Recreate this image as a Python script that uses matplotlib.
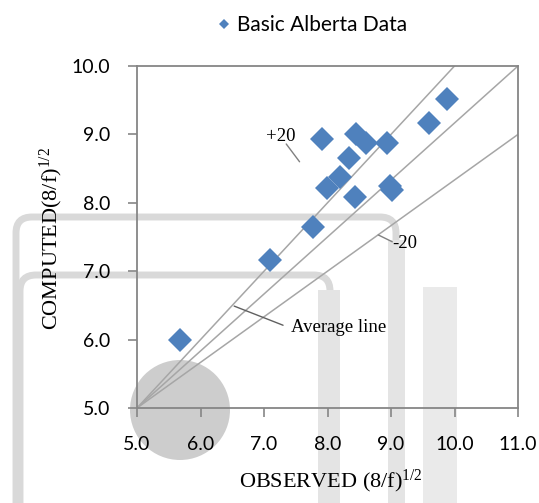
import matplotlib

matplotlib.use('Agg')

import matplotlib.pyplot as plt
import numpy as np
from matplotlib.patches import Circle, FancyBboxPatch, Rectangle
from matplotlib.transforms import IdentityTransform


W, H = 539, 503

# observed vs computed (8/f)^1/2
observed = [5.68, 7.10, 7.77, 7.99, 8.19, 7.92, 8.34, 8.45, 8.61, 8.43, 8.93, 8.98, 9.02, 9.60, 9.88]
computed = [5.99, 7.16, 7.64, 8.21, 8.38, 8.93, 8.66, 9.00, 8.88, 8.08, 8.87, 8.25, 8.18, 9.16, 9.52]

origin = 5.0
avg_slope = 5.0 / 6.0
band_factors = [1.2, 1.0, 0.8]

x_ticks = [5.0, 6.0, 7.0, 8.0, 9.0, 10.0, 11.0]
y_ticks = [5.0, 6.0, 7.0, 8.0, 9.0, 10.0]

series_label = 'Basic Alberta Data'
x_label = r'OBSERVED (8/f)$^{\mathrm{1/2}}$'
y_label = r'COMPUTED(8/f)$^{\mathrm{1/2}}$'

plt.rcParams['mathtext.fontset'] = 'custom'
plt.rcParams['mathtext.rm'] = 'Liberation Serif'
plt.rcParams['mathtext.it'] = 'Liberation Serif:italic'

BLUE = '#4f81bd'
GRID = '#a6a6a6'
SPINE = '#868686'
SCAN = '#d9d9d9'


def add_scan_marks(fig):
    # faint grey scan marks that sit behind the chart in the source image
    marks = [
        FancyBboxPatch((16, -40), 380, H - 217 + 40, boxstyle='round,pad=0,rounding_size=16',
                       fill=False, edgecolor=SCAN, linewidth=5),
        FancyBboxPatch((20, -40), 310, H - 275 + 40, boxstyle='round,pad=0,rounding_size=16',
                       fill=False, edgecolor=SCAN, linewidth=5),
        Rectangle((318, 0), 22, H - 290, color='#e4e4e4', linewidth=0),
        Rectangle((388, 0), 17, H - 240, color='#e4e4e4', linewidth=0),
        Rectangle((423, 0), 34, H - 287, color='#eaeaea', linewidth=0),
        Circle((180, H - 410), 50, color='#cdcdcd', linewidth=0),
    ]
    for patch in marks:
        patch.set_transform(IdentityTransform())
        patch.set_zorder(-5)
        fig.patches.append(patch)


def leader(ax, start, end, color='#808080'):
    ax.annotate('', xy=end, xytext=start,
                arrowprops=dict(arrowstyle='-', color=color, linewidth=1, shrinkA=0, shrinkB=0))


fig = plt.figure(figsize=(W / 100, H / 100), dpi=100)
add_scan_marks(fig)

ax = fig.add_axes([137 / W, 1 - 408 / H, 381 / W, 342 / H])
ax.set_facecolor('none')

xs = np.array([origin, 11.0])
for factor in band_factors:
    ax.plot(xs, origin + factor * avg_slope * (xs - origin), color=GRID, linewidth=1.1, zorder=2)

ax.plot(observed, computed, linestyle='none', marker='D', markersize=12, color=BLUE,
        markeredgewidth=0, label=series_label, zorder=3)

ax.set_xlim(x_ticks[0], x_ticks[-1])
ax.set_ylim(y_ticks[0], y_ticks[-1])
ax.set_xticks(x_ticks)
ax.set_yticks(y_ticks)
ax.set_xticklabels([f'{v:.1f}' for v in x_ticks])
ax.set_yticklabels([f'{v:.1f}' for v in y_ticks])
ax.tick_params(direction='out', length=6.5, width=1.2, color=SPINE, labelsize=14)
ax.tick_params(axis='x', pad=14)
ax.tick_params(axis='y', pad=13)
for lab in ax.get_xticklabels() + ax.get_yticklabels():
    lab.set_fontfamily('Lato')
for spine in ax.spines.values():
    spine.set_color(SPINE)
    spine.set_linewidth(1.3)

ax.set_xlabel(x_label, fontsize=16, family='Liberation Serif')
ax.xaxis.set_label_coords(0.509, -0.175)
ax.set_ylabel(y_label, fontsize=16, family='Liberation Serif')
ax.yaxis.set_label_coords(-0.19, 0.495)

note_font = dict(fontsize=13.5, family='Liberation Serif', ha='center', va='center', zorder=4)
ax.text(7.27, 8.97, '+20', **note_font)
leader(ax, (7.35, 8.86), (7.56, 8.6))
ax.text(9.22, 7.4, '-20', **note_font)
leader(ax, (8.8, 7.53), (9.02, 7.43))
ax.text(8.17, 6.18, 'Average line', **note_font)
leader(ax, (6.53, 6.49), (7.3, 6.21), color='#606060')

fig.legend(loc='center', bbox_to_anchor=(313 / W, 1 - 25 / H), frameon=False, markerscale=0.45,
           handlelength=0.5, handletextpad=0.4, prop={'family': 'Lato', 'size': 15})

fig.savefig('out.png', dpi=100)
